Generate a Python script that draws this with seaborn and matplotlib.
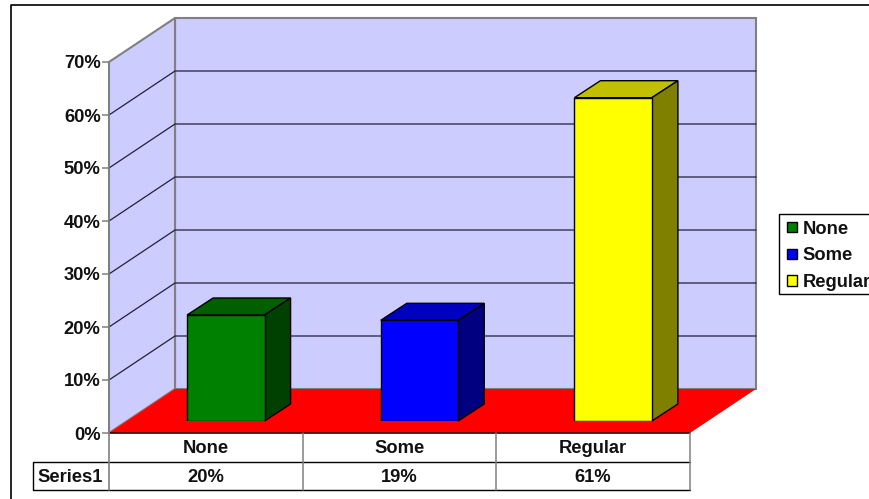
import matplotlib
matplotlib.use("Agg")
import matplotlib.pyplot as plt
from matplotlib.patches import Polygon, Patch, Rectangle
import seaborn as sns

categories = ["None", "Some", "Regular"]
values = [20, 19, 61]
value_labels = ["20%", "19%", "61%"]
series_name = "Series1"
front_colors = ["#008000", "#0000FF", "#FFFF00"]
top_colors = ["#006000", "#0000C0", "#C0C000"]
side_colors = ["#004000", "#000080", "#808000"]
y_ticks = [0, 10, 20, 30, 40, 50, 60, 70]

W, H = 870, 499
sns.set_theme(style="white")
plt.rcParams["font.family"] = ["Liberation Sans", "DejaVu Sans"]
plt.rcParams["font.weight"] = "bold"
FS = 13.2
fig = plt.figure(figsize=(W / 100, H / 100), dpi=100, facecolor="white")


def axes_px(x0, y_top, x1, y_bot, z):
    return fig.add_axes([x0 / W, 1 - y_bot / H, (x1 - x0) / W, (y_bot - y_top) / H], zorder=z)


# pixel canvas for the 3D box and the table frame
bg = axes_px(0, 0, W, H, 0)
bg.set_xlim(0, W); bg.set_ylim(H, 0); bg.axis("off")
GREY = "#808080"
X0, X1, Y0, Y7 = 109, 690, 433, 62
DX, DY = 66, -44
bg.add_patch(Polygon([(X0 + DX, Y7 + DY), (X1 + DX, Y7 + DY), (X1 + DX, Y0 + DY), (X0 + DX, Y0 + DY)],
                     fc="#CCCCFF", ec=GREY, lw=1.5))
bg.add_patch(Polygon([(X0, Y7), (X0 + DX, Y7 + DY), (X0 + DX, Y0 + DY), (X0, Y0)],
                     fc="#CCCCFF", ec=GREY, lw=1.5))
bg.add_patch(Polygon([(X0, Y0), (X1, Y0), (X1 + DX, Y0 + DY), (X0 + DX, Y0 + DY)],
                     fc="#FF0000", ec="none"))
for t in y_ticks[1:-1]:
    y = Y0 + (Y7 - Y0) * t / 70
    bg.plot([X0, X0 + DX, X1 + DX], [y, y + DY, y + DY], color="#20203A", lw=0.9, solid_joinstyle="miter")
bg.plot([X0, X1], [Y0, Y0], color="#300000", lw=1.2)
bg.plot([11, 11, W - 1], [H, 5, 5], color="black", lw=1.2)
# table
bg.plot([X1, 33, 33, X1], [462, 462, 490, 490], color="black", lw=1)
for cx in [303, 496, X1]:
    bg.plot([cx, cx], [Y0, 490], color=GREY, lw=1.1)
bg.plot([X0, X0], [Y0, 490], color=GREY, lw=1.2)
# legend frame
bg.add_patch(Rectangle((779, 214), 120, 80, fc="white", ec="black", lw=1, clip_on=True))

# front plane: value axis and category labels
front = axes_px(X0, Y7, X1, Y0, 1)
front.patch.set_alpha(0)
front.set_xlim(-0.5, 2.5); front.set_ylim(0, 70)
front.set_yticks(y_ticks, [f"{t}%" for t in y_ticks], fontsize=FS, fontweight="bold", color="#111111")
front.set_xticks(range(3), categories, fontsize=FS, fontweight="bold", color="#111111")
front.tick_params(axis="y", length=5, width=1.1, color=GREY, pad=1, left=True)
front.tick_params(axis="x", length=0, pad=5)
for s in front.spines.values():
    s.set_visible(False)
front.spines["left"].set_visible(True); front.spines["left"].set_color(GREY); front.spines["left"].set_linewidth(1.2)
for i, lab in enumerate(value_labels):
    bg.text(X0 + (X1 - X0) * (i + 0.5) / 3, 477, lab, fontsize=FS, fontweight="bold",
            color="#111111", ha="center", va="center")
bg.text(70, 477, series_name, fontsize=FS, fontweight="bold", color="#111111", ha="center", va="center")

# bar plane, set back from the front plane
BX, BY = 20, -12
ax = axes_px(X0 + BX, Y7 + BY, X1 + BX, Y0 + BY, 2)
ax.patch.set_alpha(0)
sns.barplot(x=categories, y=values, hue=categories, palette=front_colors, saturation=1, width=0.4,
            edgecolor="black", linewidth=1, legend=False, ax=ax, zorder=3)
ax.set_xlim(-0.5, 2.5); ax.set_ylim(0, 70)
ax.axis("off")
depth_x, depth_y = 26, -17
for bar, tc, sc in zip(ax.patches, top_colors, side_colors):
    (xa, ya), (xb, yb) = ax.transData.transform([(bar.get_x(), 0), (bar.get_x() + bar.get_width(), bar.get_height())])
    ya, yb = H - ya, H - yb
    bg_kw = dict(ec="black", lw=1, zorder=5)
    bg.add_patch(Polygon([(xa, yb), (xb, yb), (xb + depth_x, yb + depth_y), (xa + depth_x, yb + depth_y)], fc=tc, **bg_kw))
    bg.add_patch(Polygon([(xb, yb), (xb + depth_x, yb + depth_y), (xb + depth_x, ya + depth_y), (xb, ya)], fc=sc, **bg_kw))

handles = [Patch(fc=c, ec="black", lw=1, label=l) for c, l in zip(front_colors, categories)]
leg = fig.legend(handles=handles, loc="upper left", bbox_to_anchor=(779 / W, 1 - 213 / H),
                 bbox_transform=fig.transFigure, fontsize=FS, frameon=False,
                 borderaxespad=0, borderpad=0.42,
                 handlelength=0.55, handleheight=0.5, handletextpad=0.3, labelspacing=0.53)
for t in leg.get_texts():
    t.set_fontweight("bold")
    t.set_color("#111111")
fig.savefig("out.png", dpi=100, facecolor="white")
